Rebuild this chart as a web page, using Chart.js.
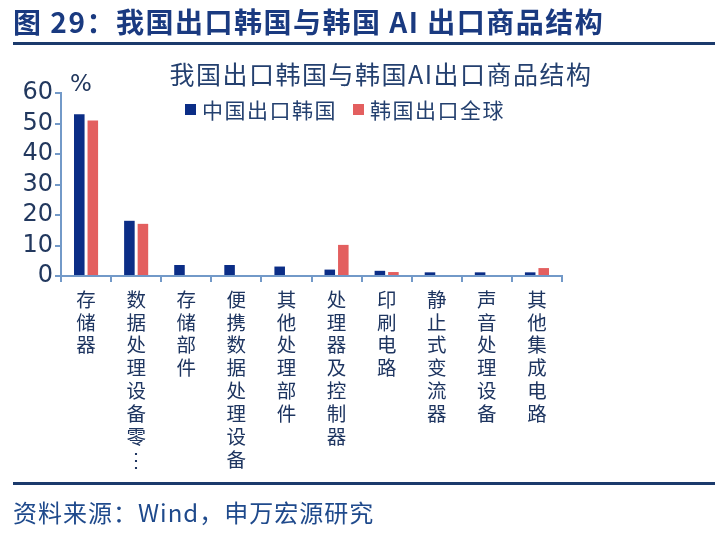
<!DOCTYPE html>
<html>
<head>
<meta charset="utf-8">
<script src="https://cdn.jsdelivr.net/npm/chart.js@4.4.1/dist/chart.umd.min.js"></script>
<style>
  html, body { margin:0; padding:0; background:#fff; width:727px; height:535px; overflow:hidden; }
  #wrap { position:relative; width:727px; height:535px; }
  #c { position:absolute; left:0; top:0; }
  .hdr { position:absolute; left:13px; top:4px; font:bold 28px "Noto Sans CJK SC", sans-serif; color:#1a3a80; line-height:34px; white-space:nowrap; letter-spacing:1.5px; }
  .hline { position:absolute; left:13px; width:702px; height:3px; background:#1b3a6c; }
  .ftr { position:absolute; left:13px; top:495px; font:24px "Noto Sans CJK SC", sans-serif; color:#1f4a8c; line-height:34px; white-space:nowrap; letter-spacing:1px; }
</style>
</head>
<body>
<div id="wrap">
  <canvas id="c" width="727" height="535"></canvas>
  <div class="hdr">图 29：我国出口韩国与韩国 AI 出口商品结构</div>
  <div class="hline" style="top:42px"></div>
  <div class="hline" style="top:482px"></div>
  <div class="ftr">资料来源：Wind，申万宏源研究</div>
</div>
<script>
const chartTitle = '我国出口韩国与韩国AI出口商品结构';
const unitLabel = '%';
const categories = ['存储器', '数据处理设备零…', '存储部件', '便携数据处理设备', '其他处理部件', '处理器及控制器', '印刷电路', '静止式变流器', '声音处理设备', '其他集成电路'];
const seriesNames = ['中国出口韩国', '韩国出口全球'];
const chinaToKorea = [53, 18.1, 3.6, 3.6, 3.1, 2.1, 1.7, 1.2, 1.2, 1.2];
const koreaToWorld = [51, 17.1, 0, 0, 0, 10.2, 1.3, 0, 0, 2.6];
const yTicks = [0, 10, 20, 30, 40, 50, 60];

const colors = ['#0b2d86', '#e35f5f'];
const axisColor = '#7299c8';
const labelColor = '#1e3560';

const verticalLabels = categories.map(s => Array.from(s).map(ch => ch === '…' ? '⋮' : ch));

const overlay = {
  id: 'overlay',
  afterDraw(chart) {
    const ctx = chart.ctx;
    ctx.save();
    ctx.fillStyle = '#24406f';
    ctx.textBaseline = 'middle';
    ctx.textAlign = 'center';
    ctx.font = '25px "Noto Sans CJK SC"';
    try { ctx.letterSpacing = '1.5px'; } catch (e) {}
    ctx.fillText(chartTitle, 381, 74);
    // legend
    ctx.font = '21px "Noto Sans CJK SC"';
    ctx.textAlign = 'left';
    const items = chart.data.datasets;
    let x = 185;
    items.forEach((ds, i) => {
      ctx.fillStyle = ds.backgroundColor;
      ctx.fillRect(x, 104, 11, 11);
      ctx.fillStyle = '#24406f';
      ctx.fillText(ds.label, x + 17, 110);
      x += 17 + ctx.measureText(ds.label).width + 16;
    });
    // unit
    ctx.font = '23px "DejaVu Sans"';
    try { ctx.letterSpacing = '0px'; } catch (e) {}
    ctx.fillStyle = '#22385e';
    ctx.textAlign = 'center';
    ctx.fillText(unitLabel, 81, 85);
    ctx.restore();
  }
};

new Chart(document.getElementById('c'), {
  type: 'bar',
  data: {
    labels: verticalLabels,
    datasets: [
      { label: seriesNames[0], data: chinaToKorea, backgroundColor: colors[0], categoryPercentage: 0.54, barPercentage: 0.78 },
      { label: seriesNames[1], data: koreaToWorld, backgroundColor: colors[1], categoryPercentage: 0.54, barPercentage: 0.78 }
    ]
  },
  options: {
    responsive: false,
    animation: false,
    devicePixelRatio: 1,
    layout: { padding: { left: 0, top: 93, right: 165, bottom: 0 } },
    plugins: { legend: { display: false }, title: { display: false }, tooltip: { enabled: false } },
    scales: {
      x: {
        afterFit(scale) { scale.height = 259; },
        grid: { display: true, drawOnChartArea: false, drawTicks: true, tickLength: 6, color: axisColor, lineWidth: 2 },
        border: { display: true, color: axisColor, width: 2 },
        ticks: { color: labelColor, padding: 6, maxRotation: 0, minRotation: 0, autoSkip: false,
                 font: { family: '"Noto Sans CJK SC"', size: 19.5, lineHeight: 1.17 } }
      },
      y: {
        min: 0, max: 60,
        afterFit(scale) { scale.width = 61; },
        afterBuildTicks(scale) { scale.ticks = yTicks.map(v => ({ value: v })); },
        grid: { display: true, drawOnChartArea: false, drawTicks: true, tickLength: 6, color: axisColor, lineWidth: 2 },
        border: { display: true, color: axisColor, width: 2 },
        ticks: { color: '#22385e', padding: 2, autoSkip: false, font: { family: '"DejaVu Sans"', size: 24, lineHeight: 1 } }
      }
    }
  },
  plugins: [overlay]
});
</script>
</body>
</html>
